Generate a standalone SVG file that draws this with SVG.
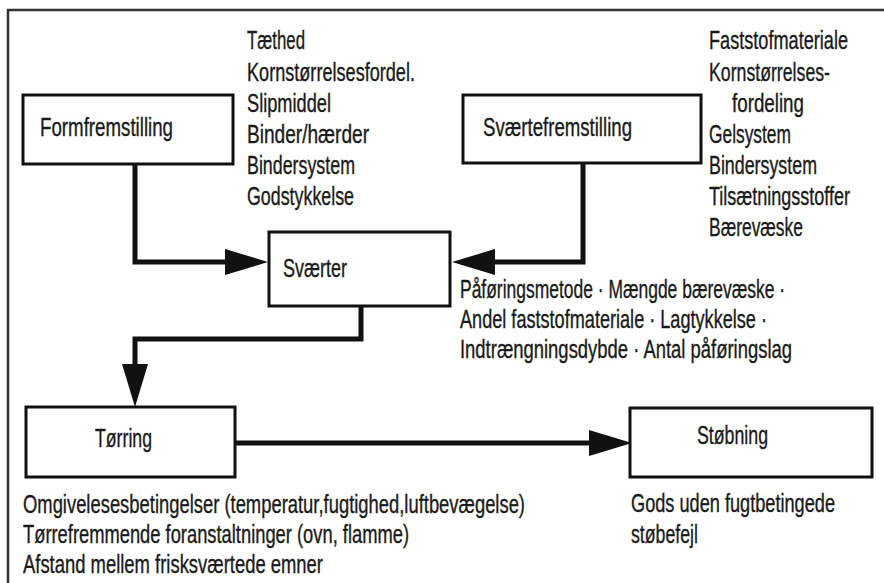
<svg xmlns="http://www.w3.org/2000/svg" width="884" height="583" viewBox="0 0 884 583">
<style>
text{font-family:"Liberation Sans Narrow","Liberation Sans","DejaVu Sans Condensed",sans-serif;font-size:25px;fill:#1a1a1a;stroke:#1a1a1a;stroke-width:0.35}
.box{fill:#fff;stroke:#111;stroke-width:3}
.conn{fill:none;stroke:#111;stroke-width:5;stroke-linejoin:miter}
.frame{fill:none;stroke:#333;stroke-width:2.5}
</style>
<defs>
<marker id="ah" markerUnits="userSpaceOnUse" markerWidth="44" markerHeight="28" viewBox="0 -14 44 28" refX="0" refY="0" orient="auto" overflow="visible">
<path d="M0,-13 L43,0 L0,13 Z" fill="#111"/>
</marker>
</defs>
<rect width="884" height="583" fill="#fff"/>
<path class="frame" d="M8,583 L8,10 L884,10"/>

<g id="connectors">
<path class="conn" d="M135,164 L135,262 L225,262" marker-end="url(#ah)"/>
<path class="conn" d="M583,163 L583,262 L495,262" marker-end="url(#ah)"/>
<path class="conn" d="M361,306 L361,339 L135,339 L135,364" marker-end="url(#ah)"/>
<path class="conn" d="M235,443 L589,443" marker-end="url(#ah)"/>
</g>

<g id="formfremstilling">
<rect class="box" x="23" y="95" width="210" height="69"/>
<text x="40" y="136" textLength="133" lengthAdjust="spacingAndGlyphs">Formfremstilling</text>
</g>
<g id="formfremstilling-params">
<text x="247" y="49" textLength="58" lengthAdjust="spacingAndGlyphs">Tæthed</text>
<text x="247" y="81" textLength="168" lengthAdjust="spacingAndGlyphs">Kornstørrelsesfordel.</text>
<text x="247" y="112" textLength="84" lengthAdjust="spacingAndGlyphs">Slipmiddel</text>
<text x="247" y="143" textLength="122" lengthAdjust="spacingAndGlyphs">Binder/hærder</text>
<text x="247" y="174" textLength="108" lengthAdjust="spacingAndGlyphs">Bindersystem</text>
<text x="247" y="205" textLength="107" lengthAdjust="spacingAndGlyphs">Godstykkelse</text>
</g>

<g id="svaertefremstilling">
<rect class="box" x="463" y="95" width="238" height="68"/>
<text x="483" y="136" textLength="149" lengthAdjust="spacingAndGlyphs">Sværtefremstilling</text>
</g>
<g id="svaertefremstilling-params">
<text x="709" y="49" textLength="139" lengthAdjust="spacingAndGlyphs">Faststofmateriale</text>
<text x="709" y="81" textLength="121" lengthAdjust="spacingAndGlyphs">Kornstørrelses-</text>
<text x="732" y="112" textLength="72" lengthAdjust="spacingAndGlyphs">fordeling</text>
<text x="709" y="143" textLength="82" lengthAdjust="spacingAndGlyphs">Gelsystem</text>
<text x="709" y="174" textLength="108" lengthAdjust="spacingAndGlyphs">Bindersystem</text>
<text x="709" y="205" textLength="141" lengthAdjust="spacingAndGlyphs">Tilsætningsstoffer</text>
<text x="709" y="236" textLength="94" lengthAdjust="spacingAndGlyphs">Bærevæske</text>
</g>

<g id="svaerter">
<rect class="box" x="269" y="232" width="181" height="74"/>
<text x="283" y="277" textLength="64" lengthAdjust="spacingAndGlyphs">Sværter</text>
</g>
<g id="svaerter-params">
<text x="460" y="298" textLength="325" lengthAdjust="spacingAndGlyphs">Påføringsmetode · Mængde bærevæske ·</text>
<text x="460" y="328" textLength="307" lengthAdjust="spacingAndGlyphs">Andel faststofmateriale · Lagtykkelse ·</text>
<text x="460" y="358" textLength="332" lengthAdjust="spacingAndGlyphs">Indtrængningsdybde · Antal påføringslag</text>
</g>

<g id="toerring">
<rect class="box" x="26" y="407" width="209" height="70"/>
<text x="95" y="447" textLength="57" lengthAdjust="spacingAndGlyphs">Tørring</text>
</g>
<g id="toerring-params">
<text x="23" y="513" textLength="502" lengthAdjust="spacingAndGlyphs">Omgivelesesbetingelser (temperatur,fugtighed,luftbevægelse)</text>
<text x="23" y="543" textLength="386" lengthAdjust="spacingAndGlyphs">Tørrefremmende foranstaltninger (ovn, flamme)</text>
<text x="23" y="573" textLength="300" lengthAdjust="spacingAndGlyphs">Afstand mellem frisksværtede emner</text>
</g>

<g id="stoebning">
<rect class="box" x="630" y="408" width="242" height="69"/>
<text x="697" y="444" textLength="71" lengthAdjust="spacingAndGlyphs">Støbning</text>
</g>
<g id="stoebning-params">
<text x="631" y="512" textLength="204" lengthAdjust="spacingAndGlyphs">Gods uden fugtbetingede</text>
<text x="631" y="543" textLength="67" lengthAdjust="spacingAndGlyphs">støbefejl</text>
</g>
</svg>
